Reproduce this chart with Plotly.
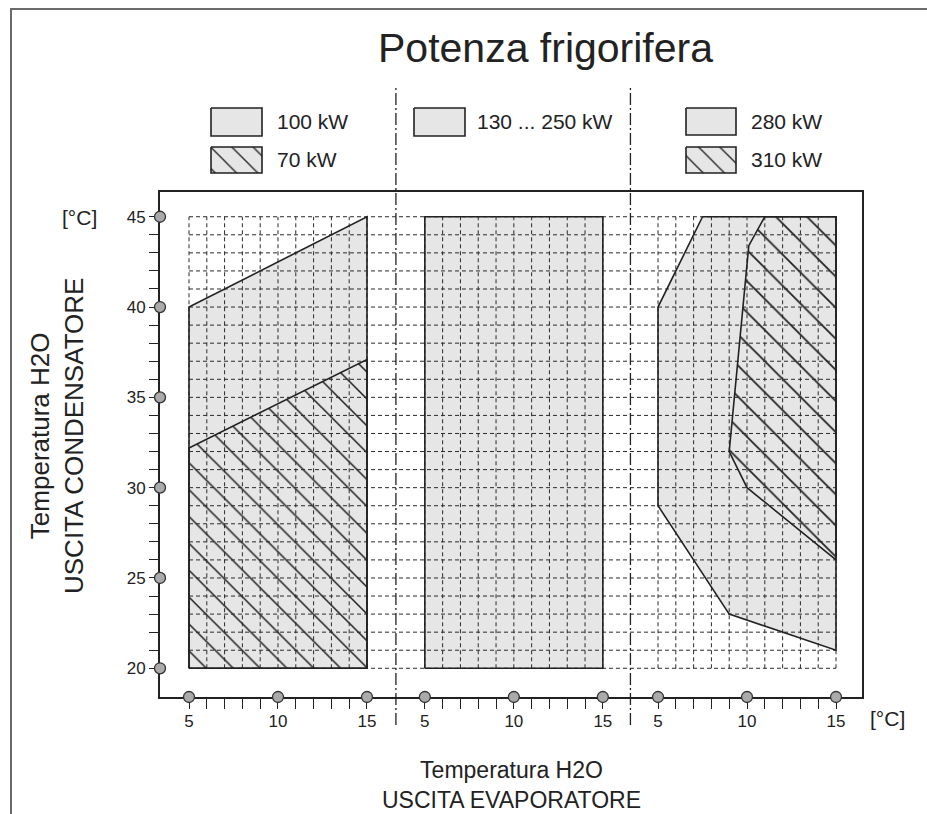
import plotly.graph_objects as go

W, H = 927, 814

# ---------------- data ----------------
x_ticks = list(range(5, 16))          # evaporator outlet temperature, each panel
x_labels = [5, 10, 15]
y_ticks = list(range(20, 46))         # condenser outlet temperature
y_labels = [20, 25, 30, 35, 40, 45]

# panel 1 : 100 kW (plain) and 70 kW (hatched)
p1_100kw_x = [5, 5, 15, 15]
p1_100kw_y = [20, 40, 45, 20]
p1_70kw_x = [5, 5, 15, 15]
p1_70kw_y = [20, 32.2, 37.1, 20]
# panel 2 : 130 ... 250 kW
p2_x = [5, 5, 15, 15]
p2_y = [20, 45, 45, 20]
# panel 3 : 280 kW (plain) and 310 kW (hatched)
p3_280kw_x = [7.5, 5, 5, 9, 15, 15]
p3_280kw_y = [45, 40, 29, 23, 21, 45]
p3_310kw_x = [11, 10.1, 9, 10, 15, 15]
p3_310kw_y = [45, 43.4, 32, 30, 26, 45]

legend_labels = [["100 kW", "70 kW"], ["130 ... 250 kW"], ["280 kW", "310 kW"]]
title_text = "Potenza frigorifera"
x_title = "Temperatura H2O<br>USCITA EVAPORATORE"
y_title = "Temperatura H2O<br>USCITA CONDENSATORE"
unit = "[°C]"

# ---------------- layout constants ----------------
OFFS = [0, 13.25, 26.35]             # panel shift along the shared x axis
XR = [3.371, 42.81]
YR = [18.41, 46.37]
FRAME = (160, 192, 862, 697)          # px: left, top, right, bottom
FONT = "Liberation Sans, Arial, sans-serif"
DARK = "#222222"
GRAY = "#e6e6e6"
GRID = "#2a2a2a"


def gx(panel, xs):
    return [None if v is None else v + OFFS[panel] for v in xs]


def closed(xs, ys):
    return list(xs) + [xs[0]], list(ys) + [ys[0]]


fig = go.Figure()


def poly(panel, xs, ys, hatch=None, outline=False):
    cx, cy = closed(xs, ys)
    if outline:
        fig.add_trace(go.Scatter(x=gx(panel, cx), y=cy, mode="lines",
                                 line=dict(color=DARK, width=1.6),
                                 hoverinfo="skip", showlegend=False))
        return
    kw = {}
    if hatch:
        kw["fillpattern"] = dict(shape="\\", size=hatch, solidity=0.08,
                                 fgcolor=DARK, bgcolor=GRAY, fillmode="replace")
    fig.add_trace(go.Scatter(x=gx(panel, cx), y=cy, mode="lines", fill="toself",
                             fillcolor=GRAY, line=dict(width=0, color=GRAY),
                             hoverinfo="skip", showlegend=False, **kw))


# fills
poly(0, p1_100kw_x, p1_100kw_y)
poly(0, p1_70kw_x, p1_70kw_y, hatch=19)
poly(1, p2_x, p2_y)
poly(2, p3_280kw_x, p3_280kw_y)
poly(2, p3_310kw_x, p3_310kw_y, hatch=22)

# dashed grid
hx, hy = [], []
for y in y_ticks:
    hx += [gx(0, [x_ticks[0]])[0], gx(2, [x_ticks[-1]])[0], None]
    hy += [y, y, None]
vx, vy = [], []
for p in range(3):
    for x in x_ticks:
        vx += [gx(p, [x])[0]] * 2 + [None]
        vy += [y_ticks[0], y_ticks[-1], None]
for xs, ys in ((hx, hy), (vx, vy)):
    fig.add_trace(go.Scatter(x=xs, y=ys, mode="lines",
                             line=dict(color=GRID, width=1, dash="4px,3px"),
                             hoverinfo="skip", showlegend=False))

# outlines
poly(0, p1_100kw_x, p1_100kw_y, outline=True)
poly(0, p1_70kw_x, p1_70kw_y, outline=True)
poly(1, p2_x, p2_y, outline=True)
poly(2, p3_280kw_x, p3_280kw_y, outline=True)
poly(2, p3_310kw_x, p3_310kw_y, outline=True)

# circles on the axes
cx_all = []
for p in range(3):
    cx_all += gx(p, x_labels)
mk = dict(size=11, color="#aaaaaa", line=dict(color="#333", width=1.3))
fig.add_trace(go.Scatter(x=cx_all, y=[YR[0]] * len(cx_all), mode="markers",
                         marker=mk, cliponaxis=False, hoverinfo="skip", showlegend=False))
fig.add_trace(go.Scatter(x=[XR[0]] * len(y_labels), y=y_labels, mode="markers",
                         marker=mk, cliponaxis=False, hoverinfo="skip", showlegend=False))

# ---------------- legend boxes (overlay pixel axes) ----------------
LEG = [  # box left, right, rows (top, bottom), text x
    (211, 262, [(108, 136), (147, 173)], 275),
    (414, 465, [(108, 136)], 475),
    (686, 736, [(108, 135), (147, 173)], 749),
]
annotations = []
for gi, (l, r, rows, tx) in enumerate(LEG):
    for ri, (t, b) in enumerate(rows):
        hatched = (ri == 1)
        kw = {}
        if hatched:
            kw["fillpattern"] = dict(shape="\\", size=15, solidity=0.09,
                                     fgcolor=DARK, bgcolor=GRAY, fillmode="replace")
        fig.add_trace(go.Scatter(x=[l, r, r, l, l], y=[t, t, b, b, t], mode="lines",
                                 fill="toself", fillcolor=GRAY,
                                 line=dict(color=DARK, width=1.6),
                                 xaxis="x2", yaxis="y2", hoverinfo="skip",
                                 showlegend=False, **kw))
        annotations.append(dict(x=tx / W, y=1 - (t + b) / 2 / H, xref="paper", yref="paper",
                                text=legend_labels[gi][ri], showarrow=False,
                                xanchor="left", yanchor="middle",
                                font=dict(family=FONT, size=21, color=DARK)))

annotations += [
    dict(x=545 / W, y=1 - 48 / H, xref="paper", yref="paper", text=title_text,
         showarrow=False, xanchor="center", yanchor="middle",
         font=dict(family=FONT, size=41, color=DARK)),
    dict(x=512 / W, y=1 - 785 / H, xref="paper", yref="paper", text=x_title,
         showarrow=False, xanchor="center", yanchor="middle",
         font=dict(family=FONT, size=23, color=DARK)),
    dict(x=57 / W, y=1 - 436 / H, xref="paper", yref="paper", text=y_title,
         showarrow=False, xanchor="center", yanchor="middle", textangle=-90,
         font=dict(family=FONT, size=26, color=DARK)),
    dict(x=79 / W, y=1 - 217 / H, xref="paper", yref="paper", text=unit,
         showarrow=False, xanchor="center", yanchor="middle",
         font=dict(family=FONT, size=21, color=DARK)),
    dict(x=887 / W, y=1 - 718 / H, xref="paper", yref="paper", text=unit,
         showarrow=False, xanchor="center", yanchor="middle",
         font=dict(family=FONT, size=21, color=DARK)),
]

# separators and page border
shapes = []
for a, b in ((0, 1), (1, 2)):
    xm = (gx(a, [x_ticks[-1]])[0] + gx(b, [x_ticks[0]])[0]) / 2
    shapes.append(dict(type="line", xref="x", yref="paper", x0=xm, x1=xm,
                       y0=1 - 725 / H, y1=1 - 88 / H,
                       line=dict(color=DARK, width=1.3, dash="12px,3px,2px,3px")))
shapes.append(dict(type="line", xref="paper", yref="paper", x0=10 / W, x1=1,
                   y0=1 - 9 / H, y1=1 - 9 / H, line=dict(color="#6a6a6a", width=2)))
shapes.append(dict(type="line", xref="paper", yref="paper", x0=11 / W, x1=11 / W,
                   y0=1 - 9 / H, y1=0, line=dict(color="#6a6a6a", width=2)))

xtv, xtt = [], []
for p in range(3):
    xtv += gx(p, x_labels)
    xtt += [str(v) for v in x_labels]
minor_x = []
for p in range(3):
    minor_x += gx(p, x_ticks)

fig.update_layout(
    width=W, height=H, margin=dict(l=0, r=0, t=0, b=0),
    paper_bgcolor="white", plot_bgcolor="rgba(0,0,0,0)",
    showlegend=False, annotations=annotations, shapes=shapes,
    font=dict(family=FONT, color=DARK),
    xaxis=dict(domain=[FRAME[0] / W, FRAME[2] / W], range=XR, anchor="y",
               showgrid=False, zeroline=False, showline=True, mirror=True,
               linecolor=DARK, linewidth=2, layer="below traces",
               tickmode="array", tickvals=xtv, ticktext=xtt,
               ticks="outside", ticklen=8, tickcolor="rgba(0,0,0,0)",
               tickfont=dict(size=17, color=DARK, family=FONT),
               minor=dict(tickmode="array", tickvals=minor_x, ticks="outside",
                          ticklen=10, tickwidth=1.2, tickcolor=DARK, showgrid=False)),
    yaxis=dict(domain=[1 - FRAME[3] / H, 1 - FRAME[1] / H], range=YR, anchor="x",
               showgrid=False, zeroline=False, showline=True, mirror=True,
               linecolor=DARK, linewidth=2, layer="below traces",
               tickmode="array", tickvals=y_labels, ticktext=[str(v) for v in y_labels],
               ticks="outside", ticklen=8, tickcolor="rgba(0,0,0,0)",
               ticklabelstandoff=1,
               tickfont=dict(size=17, color=DARK, family=FONT),
               minor=dict(tickmode="array", tickvals=y_ticks, ticks="outside",
                          ticklen=9, tickwidth=1.2, tickcolor=DARK, showgrid=False)),
    xaxis2=dict(domain=[0, 1], range=[0, W], anchor="y2", visible=False),
    yaxis2=dict(domain=[0, 1], range=[H, 0], anchor="x2", visible=False),
)

fig.write_html("out.html")
